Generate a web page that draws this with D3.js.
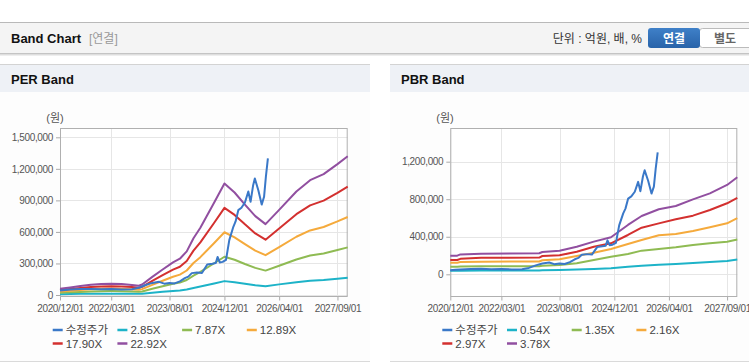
<!DOCTYPE html>
<html><head><meta charset="utf-8">
<script src="https://cdn.jsdelivr.net/npm/d3@7"></script>
<style>
html,body{margin:0;padding:0;background:#fff;}
svg{display:block;font-family:"Liberation Sans",Arial,"Noto Sans CJK KR",sans-serif;}
</style></head>
<body><svg id="c" width="749" height="364"></svg>
<script>
// ---------- DATA ----------
const perBandDates = ["2020-12-01","2021-03-01","2021-06-01","2021-09-01","2021-12-01","2022-03-01","2022-06-01","2022-09-01","2022-11-01","2022-12-01","2023-03-01","2023-06-01","2023-09-01","2023-11-01","2024-01-01","2024-03-01","2024-05-01","2024-09-01","2024-12-01","2025-03-01","2025-06-01","2025-09-01","2025-12-01","2026-04-01","2026-09-01","2027-01-01","2027-05-01","2027-09-01","2027-12-01"];
const per285  = [7,9,11,12,13,13,13,12,11,12,21,30,39,43,52,67,80,109,132,121,107,93,84,101,122,136,143,155,164];
const per787  = [21,25,29,34,36,37,36,33,30,34,59,83,107,119,143,185,220,302,364,335,295,258,232,278,338,375,395,428,453];
const per1289 = [34,40,48,55,59,61,58,54,49,56,97,136,174,194,233,304,360,495,597,548,484,422,379,456,554,614,647,700,742];
const per1790 = [47,56,66,77,82,84,81,75,69,78,134,189,242,269,324,422,500,687,829,762,672,586,526,633,769,853,898,972,1031];
const per2292 = [60,72,85,98,105,108,104,96,88,100,172,242,310,345,415,540,640,880,1061,975,860,750,674,810,985,1092,1150,1245,1320];
const perLabels = ["수정주가","2.85X","7.87X","12.89X","17.90X","22.92X"];

const pbrBandDates = ["2020-12-01","2021-02-01","2021-03-01","2021-09-01","2023-02-01","2023-03-01","2023-08-01","2024-01-01","2024-06-01","2024-11-01","2025-04-01","2025-08-01","2026-01-01","2026-06-01","2026-11-01","2027-04-01","2027-09-01","2027-12-01"];
const pbr054 = [38,38,39,40,40,42,46,50,56,65,81,92,102,110,120,130,142,158];
const pbr135 = [81,81,84,86,87,92,99,117,152,188,216,252,270,288,312,330,348,370];
const pbr216 = [124,124,130,135,136,150,160,195,230,270,323,366,416,430,462,501,543,598];
const pbr297 = [153,153,165,177,178,195,202,241,294,330,419,497,543,586,625,685,757,815];
const pbr378 = [199,199,212,220,224,238,252,294,348,395,526,621,693,728,799,863,952,1035];
const pbrLabels = ["수정주가","0.54X","1.35X","2.16X","2.97X","3.78X"];

const priceDates = ["2020-12-01","2021-01-15","2021-03-01","2021-06-01","2021-09-01","2021-12-01","2022-03-01","2022-06-01","2022-09-01","2022-11-01","2023-01-01","2023-03-01","2023-05-01","2023-06-15","2023-08-01","2023-09-15","2023-11-01","2023-12-15","2024-01-15","2024-02-15","2024-04-01","2024-05-15","2024-07-01","2024-08-15","2024-09-15","2024-10-01","2024-10-20","2024-11-15","2024-12-15","2025-01-13","2025-02-18","2025-03-10","2025-04-03","2025-05-01","2025-06-01","2025-07-01","2025-07-21","2025-08-13","2025-08-28","2025-09-28","2025-10-28","2025-11-18","2025-12-04","2025-12-22"];
const priceValues = [42,48,52,56,58,54,57,52,54,68,95,115,125,108,115,110,130,160,175,208,215,210,290,298,305,362,310,315,335,522,649,700,807,830,880,985,886,1045,1108,997,860,934,1124,1300];

const xTickDates = ["2020-12-01","2022-03-01","2023-08-01","2024-12-01","2026-04-01","2027-09-01"];
const perYTicks = [0,300000,600000,900000,1200000,1500000];
const pbrYTicks = [0,400000,800000,1200000];
const colors = ["#3a78c8","#1db3c8","#8fbb53","#f5aa3c","#d3302f","#914fa0"];

// ---------- DRAW ----------
const svg = d3.select("#c");
const parse = d3.timeParse("%Y-%m-%d");

// header
svg.append("rect").attr("x",0).attr("y",22).attr("width",749).attr("height",31).attr("fill","#f4f4f4");
svg.append("line").attr("x1",0).attr("x2",749).attr("y1",22.5).attr("y2",22.5).attr("stroke","#b9b9b9");
[["#c4c4c4",53.5],["#dedede",54.5],["#eeeeee",55.5]].forEach(([c,y])=>
  svg.append("line").attr("x1",0).attr("x2",749).attr("y1",y).attr("y2",y).attr("stroke",c));
svg.append("text").attr("x",11).attr("y",43).attr("font-size",13).attr("font-weight","bold").attr("fill","#111").text("Band Chart");
svg.append("text").attr("x",89).attr("y",43).attr("font-size",12).attr("fill","#999").text("[연결]");
svg.append("text").attr("x",642).attr("y",43).attr("font-size",12).attr("fill","#333").attr("text-anchor","end").text("단위 : 억원, 배, %");
const grad = svg.append("defs").append("linearGradient").attr("id","bg").attr("x1",0).attr("x2",0).attr("y1",0).attr("y2",1);
grad.append("stop").attr("offset","0").attr("stop-color","#3f80c8");
grad.append("stop").attr("offset","1").attr("stop-color","#2863a9");
svg.append("rect").attr("x",699.5).attr("y",28.5).attr("width",55).attr("height",19).attr("rx",3).attr("fill","#fff").attr("stroke","#bbb");
svg.append("rect").attr("x",648).attr("y",28).attr("width",52).attr("height",20).attr("rx",3).attr("fill","url(#bg)");
svg.append("text").attr("x",674).attr("y",42.5).attr("font-size",12).attr("font-weight","bold").attr("fill","#fff").attr("text-anchor","middle").text("연결");
svg.append("text").attr("x",725).attr("y",42.5).attr("font-size",12).attr("font-weight","bold").attr("fill","#666").attr("text-anchor","middle").text("별도");

function panel(px, pw, title){
  svg.append("rect").attr("x",px).attr("y",64).attr("width",pw).attr("height",28).attr("fill","#eef1f6");
  svg.append("rect").attr("x",px).attr("y",92).attr("width",pw).attr("height",269).attr("fill","#fdfdfd");
  svg.append("line").attr("x1",px).attr("x2",px+pw).attr("y1",64.5).attr("y2",64.5).attr("stroke","#d3d3d3");
  svg.append("line").attr("x1",px).attr("x2",px+pw).attr("y1",361.5).attr("y2",361.5).attr("stroke","#dadada");
  svg.append("text").attr("x",px+11).attr("y",84).attr("font-size",13).attr("font-weight","bold").attr("fill","#111").text(title);
}
panel(0,370,"PER Band");
panel(390,359,"PBR Band");

function chart(o){
  const g = svg.append("g");
  const x = d3.scaleTime().domain([parse("2020-12-01"),parse("2027-12-01")]).range([o.left,o.right]);
  const y = d3.scaleLinear().domain(o.yRef).range(o.yPix);
  const top = 128, bottom = 296.5;
  g.append("rect").attr("x",o.left).attr("y",top).attr("width",o.right-o.left).attr("height",bottom-top).attr("fill","#fff");
  // grid
  g.selectAll(".hg").data(o.yTicks).join("line")
    .attr("x1",o.left).attr("x2",o.right).attr("y1",d=>Math.round(y(d))+0.5).attr("y2",d=>Math.round(y(d))+0.5).attr("stroke","#e6e6e6");
  const xt = xTickDates.map(parse);
  g.selectAll(".vg").data(xt).join("line")
    .attr("x1",d=>Math.round(x(d))+0.5).attr("x2",d=>Math.round(x(d))+0.5).attr("y1",top).attr("y2",bottom).attr("stroke","#e6e6e6");
  // axes
  const ax = g.append("g").attr("transform",`translate(0,${bottom})`)
    .call(d3.axisBottom(x).tickValues(xt).tickFormat(d3.timeFormat("%Y/%m/%d")).tickSize(4).tickPadding(4));
  const ay = g.append("g").attr("transform",`translate(${o.left},0)`)
    .call(d3.axisLeft(y).tickValues(o.yTicks).tickFormat(d3.format(",")).tickSize(4).tickPadding(3));
  [ax,ay].forEach(a=>{
    a.select(".domain").remove();
    a.selectAll(".tick line").attr("stroke","#aaa");
    a.selectAll("text").attr("fill","#555").attr("font-size",10).attr("letter-spacing","-0.35px")
      .attr("font-family","'Liberation Sans',Arial,sans-serif");
  });
  g.append("rect").attr("x",o.left+0.5).attr("y",top+0.5).attr("width",o.right-o.left-1).attr("height",bottom-top-0.5)
    .attr("fill","none").attr("stroke","#b0b0b0");
  g.append("text").attr("x",o.unitX).attr("y",122).attr("font-size",11).attr("fill","#555").attr("text-anchor","middle").text("(원)");
  // lines
  const line = d3.line().x(d=>x(d[0])).y(d=>y(d[1]));
  const bandDates = o.bandDates.map(parse);
  o.bands.forEach((vals,i)=>{
    g.append("path").datum(vals.map((v,j)=>[bandDates[j],v*1000]))
      .attr("d",line).attr("fill","none").attr("stroke",colors[i+1]).attr("stroke-width",2).attr("stroke-linejoin","round");
  });
  const pd = priceDates.map(parse);
  g.append("path").datum(priceValues.map((v,j)=>[pd[j],v*1000]))
    .attr("d",line).attr("fill","none").attr("stroke",colors[0]).attr("stroke-width",2).attr("stroke-linejoin","round");
  // legend
  o.labels.forEach((lab,i)=>{
    const col = i%4, row = Math.floor(i/4);
    const lx = o.legX + col*64.7, ly = 330 + row*13.5;
    g.append("line").attr("x1",lx).attr("x2",lx+10).attr("y1",ly).attr("y2",ly).attr("stroke",colors[i]).attr("stroke-width",2.5);
    g.append("text").attr("x",lx+13).attr("y",ly+4).attr("font-size",11.5).attr("fill","#444").text(lab);
  });
}

chart({left:60,right:347.7,yRef:[0,1500000],yPix:[295,137.3],yTicks:perYTicks,
  bandDates:perBandDates,bands:[per285,per787,per1289,per1790,per2292],labels:perLabels,legX:52.7,unitX:55});
chart({left:450.3,right:737.3,yRef:[0,1200000],yPix:[274.3,161.7],yTicks:pbrYTicks,
  bandDates:pbrBandDates,bands:[pbr054,pbr135,pbr216,pbr297,pbr378],labels:pbrLabels,legX:442.3,unitX:445});
</script></body></html>
